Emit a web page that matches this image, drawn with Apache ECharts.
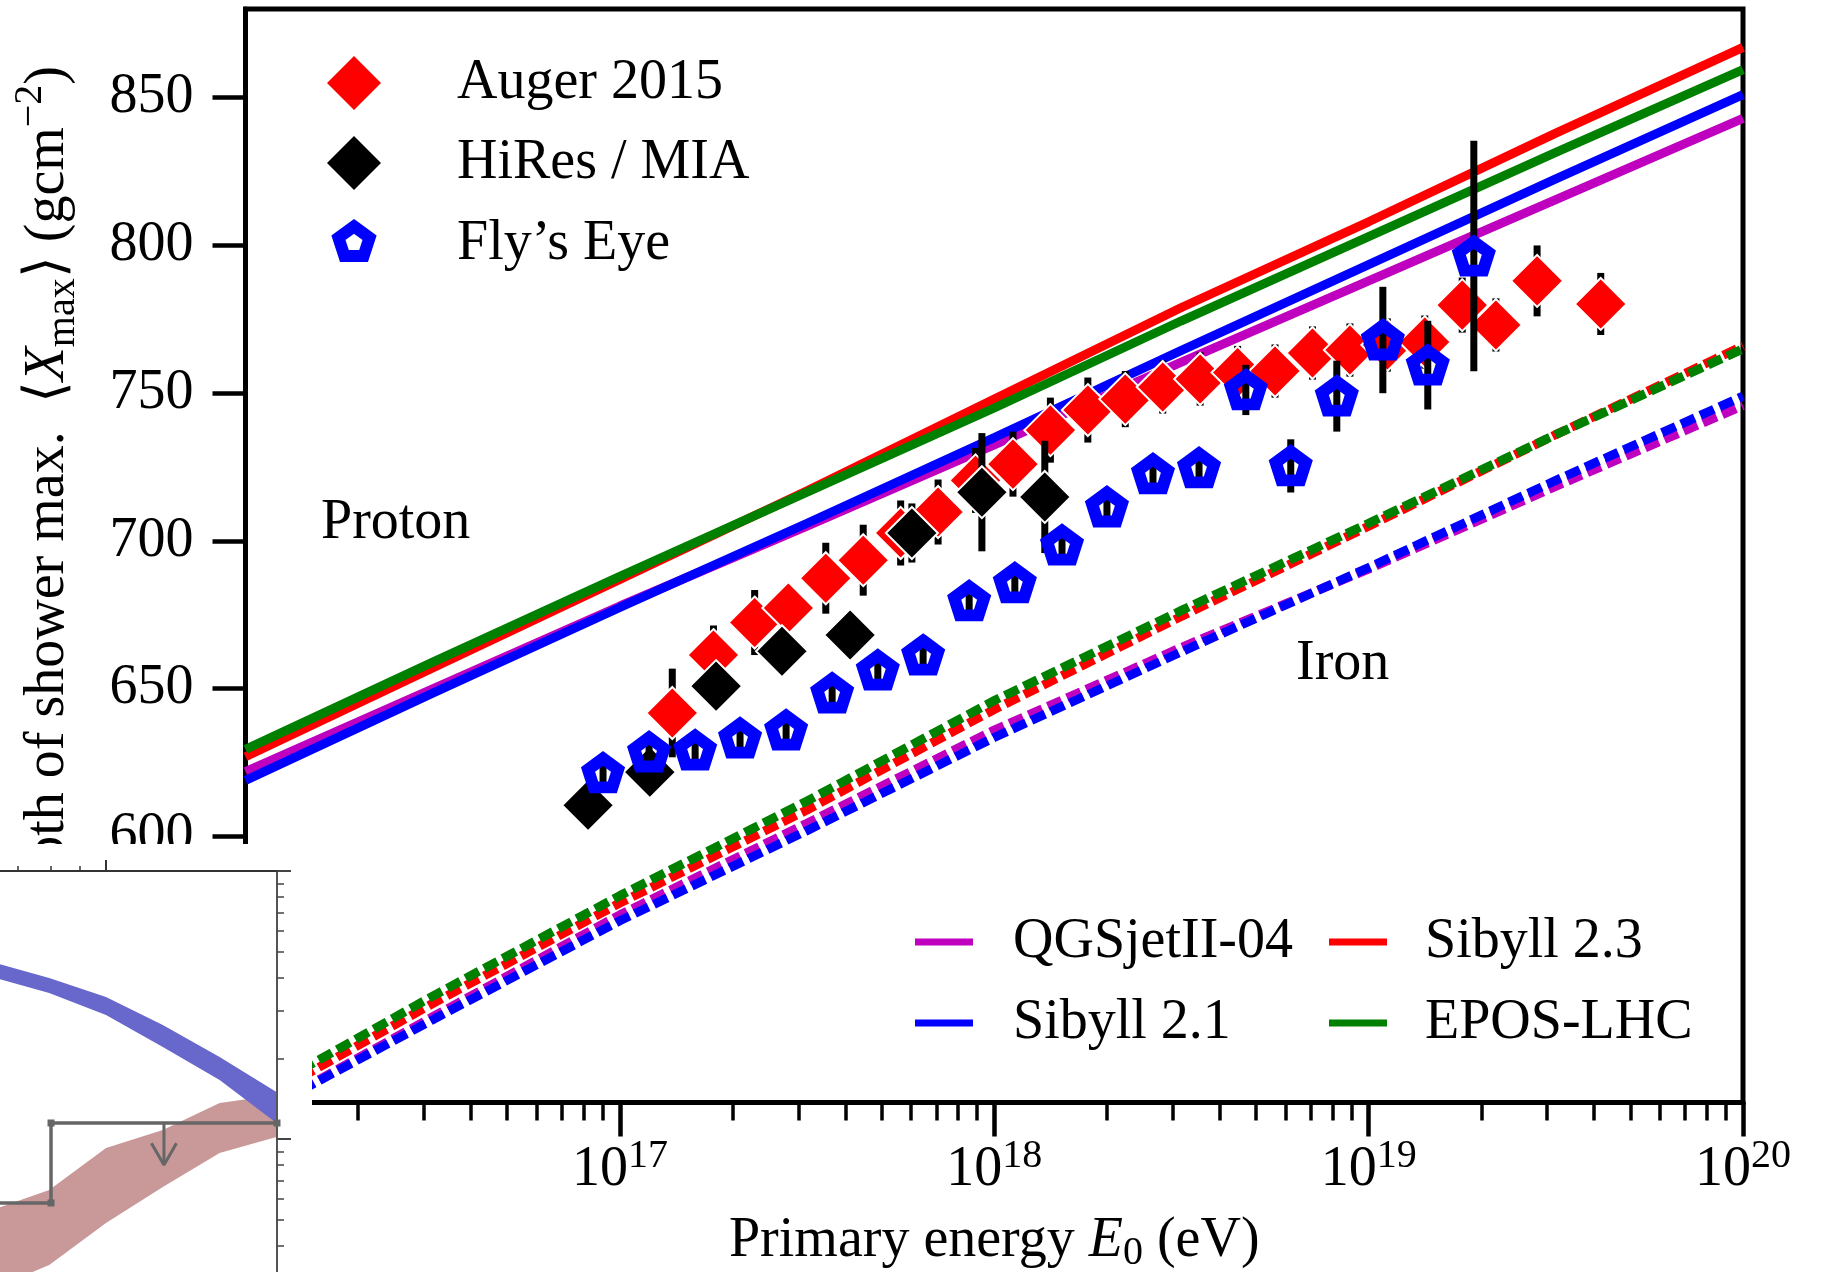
<!DOCTYPE html>
<html lang="en">
<head>
<meta charset="UTF-8">
<title>Xmax vs primary energy</title>
<script src="https://cdn.jsdelivr.net/npm/echarts@6/dist/echarts.min.js"></script>
<style>html,body{margin:0;padding:0;background:#fff;}</style>
</head>
<body>
<div id="main" style="width:1826px;height:1272px"></div>
<script type="text/javascript">
var FONT = '"Liberation Serif", "Times New Roman", serif';

// energies are log10(E / eV)
var xDecades = [16, 17, 18, 19, 20];
var yTicks = [600, 650, 700, 750, 800, 850];

// model curves, proton (solid) and iron (dashed)
var modelLgE   = [16, 16.5, 17, 17.5, 18, 18.5, 19, 19.5, 20];
var protonQGS  = [622, 650, 678, 705, 732.5, 760.5, 788, 815.5, 843];
var protonS21  = [619, 648.5, 677.5, 706, 735, 764.5, 793.5, 822.5, 851];
var protonS23  = [627, 657, 687, 717, 748, 779, 808, 838, 867];
var protonEPOS = [629.5, 659, 688, 716.5, 745, 774.5, 803, 831.5, 859.5];
var ironQGS    = [504, 539, 573.5, 604.5, 636, 664, 690.5, 718.5, 745.8];
var ironS21    = [504, 538, 571.5, 602, 633.5, 662.5, 691, 720.5, 749];
var ironS23    = [508, 543.5, 577.5, 609, 643, 674.5, 705, 736, 766];
var ironEPOS   = [510.5, 546, 580, 612, 646, 676.5, 706, 736, 765];

// Auger 2015
var augerLgE = [17.14, 17.25, 17.36, 17.45, 17.55, 17.65, 17.75, 17.85, 17.95, 18.05, 18.15, 18.25, 18.35,
                18.45, 18.55, 18.65, 18.75, 18.85, 18.95, 19.05, 19.15, 19.25, 19.34, 19.45, 19.62];
var augerX   = [641.8, 661.4, 672.4, 677.3, 687.4, 693.5, 702.7, 709.8, 720.5, 726, 737.5, 744.3, 748,
                752.1, 754.8, 757, 757.5, 763.6, 764.6, 766.3, 767.3, 779.8, 773.1, 788, 780.2];
var augerErr = [15, 10, 11, 8, 12, 12, 11, 11, 11, 11, 11, 11, 9.5, 9, 9, 9, 9, 9, 9, 9, 9, 9.3, 9, 12, 10.5];

// HiRes / MIA
var hiresLgE = [16.915, 17.08, 17.257, 17.433, 17.615, 17.78, 17.967, 18.135];
var hiresX   = [610.6, 621.8, 650.9, 662.7, 668.2, 702.7, 716.5, 714.9];
var hiresErr = [5, 5, 5, 5, 5, 10, 20, 19];

// Fly's Eye
var flyLgE = [16.955, 17.078, 17.201, 17.321, 17.444, 17.567, 17.689, 17.81, 17.933, 18.055,
              18.181, 18.301, 18.424, 18.547, 18.672, 18.792, 18.915, 19.038, 19.158, 19.281];
var flyX   = [621.5, 628.6, 629.2, 633.3, 636, 648.5, 656.3, 661.4, 679.7, 685.8,
              698.6, 711.5, 722.7, 724.7, 751.1, 725.4, 749, 768, 759.5, 796.4];
var flyErr = [4, 4, 4, 4, 4, 4, 4, 4, 6, 6, 6, 6, 6, 6, 8.5, 9, 12, 18, 15, 39];

// neighbouring panel peeking in at the lower left (log10 units of its own axes)
var insetLgX   = [0.8, 0.9, 1.0, 1.1, 1.2, 1.3];
var blueLow    = [-0.396, -0.4552, -0.5373, -0.6567, -0.7799, -0.9403];
var blueHigh   = [-0.340, -0.3993, -0.4701, -0.5746, -0.694, -0.8246];
var brownLow   = [-1.56, -1.47, -1.313, -1.179, -1.052, -0.993];
var brownHigh  = [-1.265, -1.19, -1.034, -0.966, -0.866, -0.836];
var stepX      = [0.8, 0.9032, 0.9032, 1.301];
var stepY      = [-1.2388, -1.2388, -0.9403, -0.9403];
var arrowShaftX = [1.102, 1.102];
var arrowShaftY = [-0.9403, -1.097];
var arrowHeadX  = [1.080, 1.102, 1.124];
var arrowHeadY  = [-1.016, -1.097, -1.016];
var insetXMinor = [7, 8, 9];

function pairs(xs, ys) {
    return xs.map(function (x, i) { return [x, ys[i]]; });
}

var minorX = [];
for (var d = 16; d < 20; d++) {
    for (var k = 2; k <= 9; k++) minorX.push(d + Math.log10(k));
}
var insetYMinor = [];
for (var k2 = 2; k2 <= 9; k2++) insetYMinor.push(Math.log10(k2 / 10));
for (var k3 = 4; k3 <= 9; k3++) insetYMinor.push(Math.log10(k3 / 100));

var PENTA = 'path://M0,-100L95.11,-30.9L58.78,80.9L-58.78,80.9L-95.11,-30.9Z';
var PENTA_LEGEND = 'path://M-165,-145M165,165M0,-100L95.11,-30.9L58.78,80.9L-58.78,80.9L-95.11,-30.9Z';

function modelLine(name, color, vals, dashed) {
    return {
        name: name, type: 'line', xAxisIndex: 0, yAxisIndex: 0,
        data: pairs(modelLgE, vals),
        symbol: 'none', showSymbol: false, silent: true, z: 2,
        itemStyle: {color: color},
        lineStyle: {color: color, width: 9, type: dashed ? [15, 6] : 'solid', cap: 'butt'}
    };
}

function errorBars(xs, ys, es, z) {
    return {
        type: 'custom', xAxisIndex: 0, yAxisIndex: 0, silent: true, z: z,
        data: xs.map(function (x, i) { return [x, ys[i], es[i]]; }),
        encode: {x: 0, y: 1},
        renderItem: function (params, api) {
            var x = api.value(0), y = api.value(1), e = api.value(2);
            var a = api.coord([x, y + e]);
            var b = api.coord([x, y - e]);
            return {
                type: 'line',
                shape: {x1: a[0], y1: a[1], x2: b[0], y2: b[1]},
                style: {stroke: '#000', lineWidth: 7}
            };
        }
    };
}

// filled band between two curves of the inset panel, drawn once as a polygon
function band(xs, low, high, color) {
    return {
        type: 'custom', xAxisIndex: 2, yAxisIndex: 1, silent: true, z: 60,
        data: xs.map(function (x, i) { return [x, low[i], high[i]]; }),
        encode: {x: 0, y: [1, 2]},
        renderItem: function (params, api) {
            if (params.dataIndex !== 2) return null;
            var pts = [];
            for (var i = 0; i < xs.length; i++) pts.push(api.coord([xs[i], high[i]]));
            for (var j = xs.length - 1; j >= 0; j--) pts.push(api.coord([xs[j], low[j]]));
            return {type: 'polygon', shape: {points: pts}, style: {fill: color}};
        }
    };
}

var myChart = echarts.init(document.getElementById('main'), null, {renderer: 'canvas'});

var option = {
    animation: false,
    backgroundColor: '#fff',
    textStyle: {fontFamily: FONT},
    grid: [
        {left: 245.5, right: 83, top: 9, bottom: 169.5, show: true, borderColor: '#000', borderWidth: 5,
         backgroundColor: 'rgba(0,0,0,0)', containLabel: false, outerBoundsMode: 'none'},
        {left: 0, top: 871, width: 277, bottom: 0, show: false, containLabel: false, outerBoundsMode: 'none'}
    ],
    xAxis: [
        {
            gridIndex: 0, type: 'value', min: 16, max: 20, position: 'bottom',
            axisLine: {show: true, onZero: false, lineStyle: {color: '#000', width: 5}},
            axisTick: {show: true, inside: false, length: 34, customValues: xDecades,
                       lineStyle: {color: '#000', width: 4.5}},
            axisLabel: {
                show: true, customValues: xDecades, margin: 40,
                formatter: function (v) { return '{b|10}{s|' + v + '}'; },
                rich: {
                    b: {fontFamily: FONT, fontSize: 56, lineHeight: 56, color: '#000'},
                    s: {fontFamily: FONT, fontSize: 40, lineHeight: 40, color: '#000', padding: [0, 0, 28, 0]}
                }
            },
            splitLine: {show: false},
            name: '{t|Primary energy }{i|E}{sub|0}{t| (eV)}',
            nameLocation: 'middle', nameGap: 105,
            nameTextStyle: {
                rich: {
                    t: {fontFamily: FONT, fontSize: 56, lineHeight: 56, color: '#000'},
                    i: {fontFamily: FONT, fontSize: 56, lineHeight: 56, fontStyle: 'italic', color: '#000'},
                    sub: {fontFamily: FONT, fontSize: 40, lineHeight: 40, color: '#000', padding: [24, 0, 0, 0]}
                }
            }
        },
        {
            gridIndex: 0, type: 'value', min: 16, max: 20, position: 'bottom',
            axisLine: {show: false, onZero: false},
            axisTick: {show: true, inside: false, length: 18, customValues: minorX,
                       lineStyle: {color: '#000', width: 3.5}},
            axisLabel: {show: false},
            splitLine: {show: false}
        },
        {
            gridIndex: 1, type: 'value', min: 0.8134, max: 1.301, position: 'top', z: 60,
            axisLine: {show: true, onZero: false, lineStyle: {color: '#333', width: 2}},
            axisTick: {show: true, length: 11, customValues: [1], lineStyle: {color: '#333', width: 2}},
            axisLabel: {show: false},
            splitLine: {show: false}
        },
        {
            gridIndex: 1, type: 'value', min: 0.8134, max: 1.301, position: 'top', z: 60,
            axisLine: {show: false, onZero: false},
            axisTick: {show: true, length: 5, customValues: insetXMinor.map(Math.log10),
                       lineStyle: {color: '#333', width: 1.5}},
            axisLabel: {show: false},
            splitLine: {show: false}
        }
    ],
    yAxis: [
        {
            gridIndex: 0, type: 'value', min: 510, max: 880, position: 'left',
            axisLine: {show: true, onZero: false, lineStyle: {color: '#000', width: 5}},
            axisTick: {show: true, inside: false, length: 33, customValues: yTicks,
                       lineStyle: {color: '#000', width: 4.5}},
            axisLabel: {show: true, customValues: yTicks, margin: 52,
                        fontFamily: FONT, fontSize: 56, color: '#000'},
            splitLine: {show: false}
        },
        {
            gridIndex: 1, type: 'value', min: -1.4963, max: 0, position: 'right', z: 60,
            axisLine: {show: true, onZero: false, lineStyle: {color: '#555', width: 2}},
            axisTick: {show: true, length: 14, customValues: [0, -1], lineStyle: {color: '#444', width: 2}},
            axisLabel: {show: false},
            splitLine: {show: false}
        },
        {
            gridIndex: 1, type: 'value', min: -1.4963, max: 0, position: 'right', z: 60,
            axisLine: {show: false, onZero: false},
            axisTick: {show: true, length: 7, customValues: insetYMinor, lineStyle: {color: '#444', width: 1.5}},
            axisLabel: {show: false},
            splitLine: {show: false}
        }
    ],
    legend: [
        {
            orient: 'vertical', left: 321, top: 53, padding: 0, itemGap: 20,
            itemWidth: 54, itemHeight: 54, selectedMode: false,
            textStyle: {fontFamily: FONT, fontSize: 56, color: '#000', lineHeight: 60, padding: [0, 0, 0, 71]},
            data: [
                {name: 'Auger 2015', itemStyle: {borderWidth: 0}},
                {name: 'HiRes / MIA', itemStyle: {borderWidth: 0}},
                {name: 'Fly’s Eye', icon: PENTA_LEGEND,
                 itemStyle: {color: 'rgba(0,0,0,0)', borderColor: '#0000ff', borderWidth: 12, borderJoin: 'miter'}}
            ]
        },
        {
            orient: 'vertical', left: 915, top: 912, padding: 0, itemGap: 21,
            itemWidth: 58, itemHeight: 7, icon: 'rect', selectedMode: false,
            itemStyle: {borderWidth: 0},
            textStyle: {fontFamily: FONT, fontSize: 56, color: '#000', lineHeight: 60, padding: [0, 0, 0, 35]},
            data: ['QGSjetII-04', 'Sibyll 2.1']
        },
        {
            orient: 'vertical', left: 1329, top: 912, padding: 0, itemGap: 21,
            itemWidth: 58, itemHeight: 7, icon: 'rect', selectedMode: false,
            itemStyle: {borderWidth: 0},
            textStyle: {fontFamily: FONT, fontSize: 56, color: '#000', lineHeight: 60, padding: [0, 0, 0, 33]},
            data: ['Sibyll 2.3', 'EPOS-LHC']
        }
    ],
    graphic: [
        {
            type: 'text', x: 48, y: 66, rotation: Math.PI / 2, z: 1, silent: true,
            style: {
                text: '{t|Depth of shower max.  ⟨}{i|X}{sub|max}{t|⟩ (gcm}{sup|−2}{t|)}',
                align: 'right', verticalAlign: 'middle', fill: '#000',
                rich: {
                    t: {fontFamily: FONT, fontSize: 56, lineHeight: 56, fill: '#000'},
                    i: {fontFamily: FONT, fontSize: 56, lineHeight: 56, fontStyle: 'italic', fill: '#000'},
                    sub: {fontFamily: FONT, fontSize: 40, lineHeight: 40, fill: '#000', padding: [30, 0, 0, 0]},
                    sup: {fontFamily: FONT, fontSize: 40, lineHeight: 40, fill: '#000', padding: [0, 0, 36, 0]}
                }
            }
        },
        {
            type: 'text', x: 321, y: 523, z: 1, silent: true,
            style: {text: 'Proton', fontFamily: FONT, fontSize: 56, fill: '#000', verticalAlign: 'middle'}
        },
        {
            type: 'text', x: 1296, y: 664, z: 1, silent: true,
            style: {text: 'Iron', fontFamily: FONT, fontSize: 56, fill: '#000', verticalAlign: 'middle'}
        },
        {
            type: 'rect', z: 50, silent: true,
            shape: {x: 0, y: 844, width: 312, height: 428},
            style: {fill: '#fff'}
        }
    ],
    series: [
        modelLine('QGSjetII-04', '#bf00bf', protonQGS, false),
        modelLine('Sibyll 2.1', '#0000ff', protonS21, false),
        modelLine('Sibyll 2.3', '#ff0000', protonS23, false),
        modelLine('EPOS-LHC', '#008000', protonEPOS, false),
        modelLine('QGSjetII-04', '#bf00bf', ironQGS, true),
        modelLine('Sibyll 2.1', '#0000ff', ironS21, true),
        modelLine('Sibyll 2.3', '#ff0000', ironS23, true),
        modelLine('EPOS-LHC', '#008000', ironEPOS, true),

        errorBars(augerLgE, augerX, augerErr, 3),
        {
            name: 'Auger 2015', type: 'scatter', xAxisIndex: 0, yAxisIndex: 0, z: 4, silent: true,
            data: pairs(augerLgE, augerX), symbol: 'diamond', symbolSize: 52,
            itemStyle: {color: '#ff0000', borderColor: '#fff', borderWidth: 2, opacity: 1}
        },
        errorBars(hiresLgE, hiresX, hiresErr, 5),
        {
            name: 'HiRes / MIA', type: 'scatter', xAxisIndex: 0, yAxisIndex: 0, z: 6, silent: true,
            data: pairs(hiresLgE, hiresX), symbol: 'diamond', symbolSize: 52,
            itemStyle: {color: '#000000', borderColor: '#fff', borderWidth: 2, opacity: 1}
        },
        errorBars(flyLgE, flyX, flyErr, 7),
        {
            name: 'Fly’s Eye', type: 'scatter', xAxisIndex: 0, yAxisIndex: 0, z: 8, silent: true,
            data: pairs(flyLgE, flyX), symbol: PENTA, symbolSize: [30, 29],
            itemStyle: {color: 'rgba(0,0,0,0)', borderColor: '#0000ff', borderWidth: 12,
                        borderJoin: 'miter', opacity: 1}
        },

        band(insetLgX, brownLow, brownHigh, '#c99999'),
        band(insetLgX, blueLow, blueHigh, '#6868cc'),
        {
            type: 'line', xAxisIndex: 2, yAxisIndex: 1, z: 61, silent: true,
            data: pairs(stepX, stepY), symbol: 'rect', symbolSize: 7, showSymbol: true,
            itemStyle: {color: '#666'}, lineStyle: {color: '#666', width: 3.5}
        },
        {
            type: 'line', xAxisIndex: 2, yAxisIndex: 1, z: 61, silent: true,
            data: pairs(arrowShaftX, arrowShaftY), symbol: 'none',
            lineStyle: {color: '#666', width: 3}
        },
        {
            type: 'line', xAxisIndex: 2, yAxisIndex: 1, z: 61, silent: true,
            data: pairs(arrowHeadX, arrowHeadY), symbol: 'none',
            lineStyle: {color: '#666', width: 3}
        }
    ]
};

myChart.setOption(option);
</script>
</body>
</html>
